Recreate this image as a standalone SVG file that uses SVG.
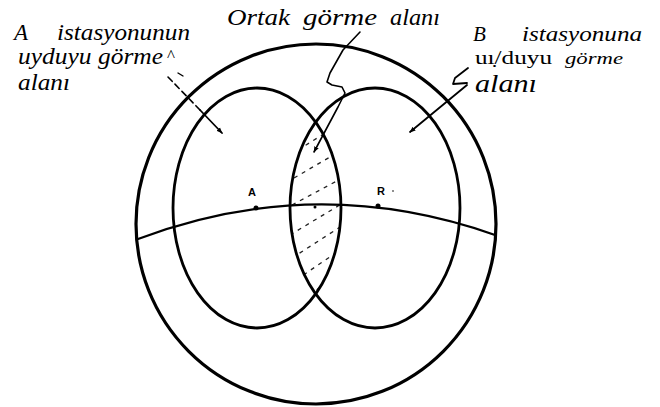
<svg xmlns="http://www.w3.org/2000/svg" width="660" height="407" viewBox="0 0 660 407">
<defs>
<style>
.ln{fill:none;stroke:#000;stroke-linecap:round;stroke-linejoin:round}
.sm{font-weight:bold;font-size:11px;fill:#000}
.ht{fill:none;stroke:#222;stroke-width:1.3;stroke-dasharray:4 5}
</style>
<marker id="ah" viewBox="0 0 10 10" refX="9" refY="5" markerWidth="6" markerHeight="6" orient="auto" markerUnits="userSpaceOnUse">
<path d="M0,1 L10,5 L0,9 Z" fill="#000"/>
</marker>
<clipPath id="cL"><ellipse cx="257" cy="208" rx="84" ry="120"/></clipPath>
<clipPath id="cR"><ellipse cx="375" cy="208" rx="85" ry="120"/></clipPath>
</defs>
<rect width="660" height="407" fill="#fff"/>

<g id="earth">
<circle class="ln" cx="316" cy="224" r="180" stroke-width="3.2"/>
</g>

<g id="overlap">
<g clip-path="url(#cL)"><g clip-path="url(#cR)">
<path class="ht" d="M298,150 L338,125 M294,178 L342,150 M292,205 L346,176 M290,235 L348,200 M292,258 L348,222 M296,280 L346,246 M302,300 L342,272 M308,318 L336,296"/>
</g></g>
</g>

<g id="zoneA">
<ellipse class="ln" cx="257" cy="208" rx="84" ry="120" stroke-width="2.8"/>
</g>
<g id="zoneB">
<ellipse class="ln" cx="375" cy="208" rx="85" ry="120" stroke-width="2.8"/>
</g>

<g id="horizon">
<path class="ln" d="M138,239 Q316,172 495,235" stroke-width="2.2"/>
</g>

<g id="stationA">
<circle cx="256" cy="208" r="2.5" fill="#000"/>
<text class="sm" font-family="Liberation Sans, Arial, sans-serif" x="248" y="196">A</text>
</g>
<g id="stationB">
<circle cx="378" cy="206" r="2.5" fill="#000"/>
<text class="sm" font-family="Liberation Sans, Arial, sans-serif" x="377" y="195">R</text>
<circle cx="393" cy="191" r="0.8" fill="#000"/>
</g>
<circle cx="315" cy="207" r="1.5" fill="#000"/>

<g id="connectors">
<path class="ln" d="M168,77 L200,110" stroke-width="1.6" stroke-dasharray="6 4"/>
<path class="ln" d="M200,110 L222,133" stroke-width="1.8" marker-end="url(#ah)"/>
<path class="ln" d="M178,73 L183,76" stroke-width="1.4"/>
<path class="ln" d="M468,68 L455,78 L453,84 L467,83" stroke-width="1.8"/>
<path class="ln" d="M467,85 L410,132" stroke-width="1.8" marker-end="url(#ah)"/>
<path class="ln" d="M360,32 L343,50 L330,73 L327,82 L332,85 L342,87 L345,93 L338,107 L314,152" stroke-width="1.6" marker-end="url(#ah)"/>
</g>

<g id="labelA" font-family="Liberation Serif, Times New Roman, serif" font-style="italic" fill="#000">
<text font-size="23" x="14" y="40">A</text>
<text font-size="23" x="57" y="40" textLength="133" lengthAdjust="spacingAndGlyphs">istasyonunun</text>
<text font-size="23" x="18" y="64" textLength="145" lengthAdjust="spacingAndGlyphs">uyduyu görme</text>
<text font-style="normal" font-size="17" x="167" y="61">^</text>
<text font-size="23" x="18" y="90" textLength="52" lengthAdjust="spacingAndGlyphs">alanı</text>
</g>

<g id="labelCommon" font-family="Liberation Serif, Times New Roman, serif" font-style="italic" fill="#000">
<text font-size="24" x="227" y="25" textLength="63" lengthAdjust="spacingAndGlyphs">Ortak</text>
<text font-size="24" x="303" y="25" textLength="74" lengthAdjust="spacingAndGlyphs">görme</text>
<text font-size="24" x="390" y="25" textLength="50" lengthAdjust="spacingAndGlyphs">alanı</text>
</g>

<g id="labelB" font-family="Liberation Serif, Times New Roman, serif" font-style="italic" fill="#000">
<text font-size="21" x="473" y="41">B</text>
<text font-size="21" x="522" y="41" textLength="120" lengthAdjust="spacingAndGlyphs">istasyonuna</text>
<text font-style="normal" font-size="18" x="475" y="64" textLength="77" lengthAdjust="spacingAndGlyphs">uı̣/duyu</text>
<text font-size="17" x="565" y="64" textLength="58" lengthAdjust="spacingAndGlyphs">görme</text>
<text font-size="26" x="475" y="92" textLength="62" lengthAdjust="spacingAndGlyphs">alanı</text>
</g>
</svg>
